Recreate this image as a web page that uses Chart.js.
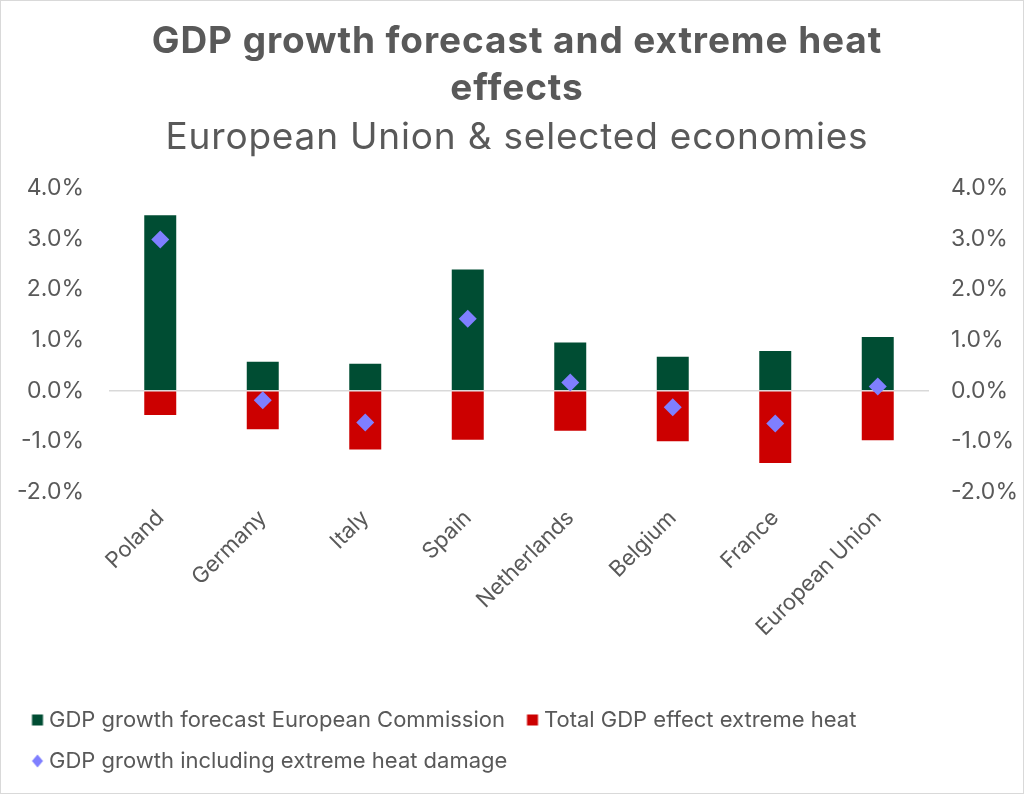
<!DOCTYPE html>
<html>
<head>
<meta charset="utf-8">
<script src="https://cdn.jsdelivr.net/npm/chart.js@4.4.1/dist/chart.umd.min.js"></script>
<style>
  html, body { margin: 0; padding: 0; background: #ffffff; }
  #wrap { width: 1024px; height: 794px; }
</style>
</head>
<body>
<div id="wrap"><canvas id="c" width="1024" height="794"></canvas></div>
<script>
const categories = ["Poland", "Germany", "Italy", "Spain", "Netherlands", "Belgium", "France", "European Union"];
const forecastEC = [3.46, 0.57, 0.53, 2.39, 0.95, 0.67, 0.78, 1.06];
const heatEffect = [-0.48, -0.76, -1.16, -0.97, -0.79, -1.00, -1.43, -0.98];
const growthInclHeat = [2.98, -0.19, -0.63, 1.42, 0.16, -0.33, -0.65, 0.08];
const yTicks = [-2, -1, 0, 1, 2, 3, 4];

const TXT = '#595959';
const FONT = 'Inter';
const GREEN = '#004D33';
const RED = '#CC0000';
const VIOLET = '#7F7FFF';

// small legend marker images (square / diamond drawn in right part of the image)
function legendMarker(color, diamond) {
  const c = document.createElement('canvas');
  c.width = 24; c.height = 14;
  const g = c.getContext('2d');
  g.fillStyle = color;
  if (diamond) {
    g.beginPath();
    g.moveTo(16, 0.5); g.lineTo(21.5, 7); g.lineTo(16, 13.5); g.lineTo(10.5, 7);
    g.closePath(); g.fill();
  } else {
    g.fillRect(10.5, 1.5, 11, 11);
  }
  return c;
}
const markers = [legendMarker(GREEN, false), legendMarker(RED, false), legendMarker(VIOLET, true)];

const framePlugin = {
  id: 'frame',
  afterLayout(chart) {
    chart.boxes.forEach((b) => {
      if (typeof b._drawArgs === 'function' && !b.__patched) {
        const orig = b.draw.bind(b);
        const sp = b.options.font && b.options.font.weight === 'bold' ? '0.9px' : '0.8px';
        b.draw = function (area) {
          const ctx = chart.ctx;
          const prev = ctx.letterSpacing;
          ctx.letterSpacing = sp;
          orig(area);
          ctx.letterSpacing = prev || '0px';
        };
        b.__patched = true;
      }
    });
  },
  afterDraw(chart) {
    const ctx = chart.ctx;
    ctx.save();
    ctx.strokeStyle = '#d9d9d9';
    ctx.lineWidth = 1;
    ctx.strokeRect(0.5, 0.5, chart.width - 1, chart.height - 1);
    ctx.restore();
  }
};

new Chart(document.getElementById('c'), {
  type: 'bar',
  data: {
    labels: categories,
    datasets: [
      {
        label: 'GDP growth forecast European Commission',
        data: forecastEC,
        backgroundColor: GREEN,
        yAxisID: 'y',
        order: 1,
        barPercentage: 0.312,
        categoryPercentage: 1
      },
      {
        label: 'Total GDP effect extreme heat',
        data: heatEffect,
        backgroundColor: RED,
        yAxisID: 'y',
        order: 1,
        barPercentage: 0.312,
        categoryPercentage: 1
      },
      {
        type: 'line',
        label: 'GDP growth including extreme heat damage',
        data: growthInclHeat,
        yAxisID: 'y2',
        showLine: false,
        pointStyle: 'rectRot',
        pointRadius: 9,
        pointHoverRadius: 9,
        pointBackgroundColor: VIOLET,
        pointBorderColor: VIOLET,
        pointBorderWidth: 0,
        backgroundColor: VIOLET,
        borderColor: VIOLET,
        order: 0
      }
    ]
  },
  options: {
    responsive: false,
    animation: false,
    devicePixelRatio: 1,
    layout: { padding: { left: 10, right: 0, top: 0, bottom: 12 } },
    plugins: {
      tooltip: { enabled: false },
      title: {
        display: true,
        text: ['GDP growth forecast and extreme heat', 'effects'],
        color: TXT,
        font: { family: FONT, size: 37, weight: 'bold', lineHeight: 1.27 },
        padding: { top: 18, bottom: 0 }
      },
      subtitle: {
        display: true,
        text: 'European Union & selected economies',
        color: TXT,
        font: { family: FONT, size: 37, weight: 'normal', lineHeight: 1.16 },
        padding: { top: 4, bottom: 29 }
      },
      legend: {
        position: 'bottom',
        align: 'start',
        labels: {
          color: TXT,
          font: { family: FONT, size: 22 },
          usePointStyle: true,
          boxWidth: 9,
          boxHeight: 11,
          padding: 19,
          sort: (a, b) => a.datasetIndex - b.datasetIndex,
          generateLabels(chart) {
            return chart.data.datasets.map((ds, i) => ({
              text: ds.label,
              fillStyle: ds.type === 'line' ? VIOLET : ds.backgroundColor,
              strokeStyle: 'rgba(0,0,0,0)',
              lineWidth: 0,
              pointStyle: markers[i],
              hidden: false,
              datasetIndex: i,
              fontColor: TXT
            }));
          }
        }
      }
    },
    scales: {
      x: {
        stacked: true,
        grid: { display: false },
        border: { display: false },
        ticks: {
          color: TXT,
          font: { family: FONT, size: 22 },
          minRotation: 45,
          maxRotation: 45,
          padding: 5
        },
        afterFit(s) { s.height = 198; }
      },
      y: {
        stacked: true,
        position: 'left',
        min: -2,
        max: 4,
        afterBuildTicks(s) { s.ticks = yTicks.map(v => ({ value: v })); },
        grid: {
          drawTicks: false,
          color: (c) => (c.tick && c.tick.value === 0 ? '#d9d9d9' : 'rgba(0,0,0,0)'),
          lineWidth: 1.5
        },
        border: { display: false },
        ticks: {
          color: TXT,
          font: { family: FONT, size: 23 },
          padding: 25,
          callback: (v) => Number(v).toFixed(1) + '%'
        },
        afterFit(s) { s.width = 99; }
      },
      y2: {
        position: 'right',
        min: -2,
        max: 4,
        afterBuildTicks(s) { s.ticks = yTicks.map(v => ({ value: v })); },
        grid: { display: false, drawTicks: false },
        border: { display: false },
        ticks: {
          color: TXT,
          font: { family: FONT, size: 23 },
          padding: 22,
          callback: (v) => Number(v).toFixed(1) + '%'
        },
        afterFit(s) { s.width = 95; }
      }
    }
  },
  plugins: [framePlugin]
});
</script>
</body>
</html>
